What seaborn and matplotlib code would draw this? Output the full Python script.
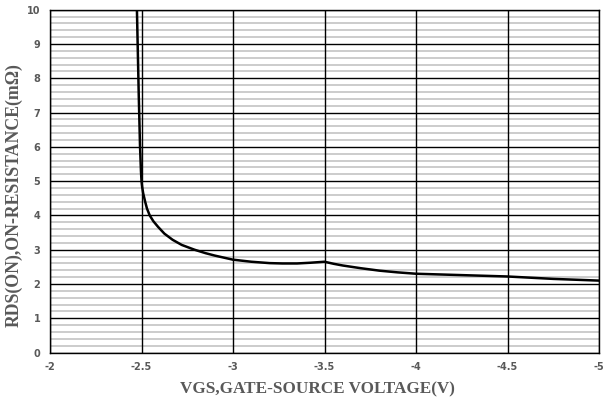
import matplotlib
matplotlib.use("Agg")
import matplotlib.pyplot as plt
import seaborn as sns
import numpy as np
import pandas as pd

vgs = [-2.475, -2.485, -2.492, -2.497, -2.5, -2.503, -2.509, -2.52, -2.53, -2.545,
       -2.565, -2.59, -2.625, -2.67, -2.72, -2.79, -2.85, -2.9, -2.95, -3.0, -3.1,
       -3.2, -3.27, -3.35, -3.42, -3.5, -3.55, -3.6, -3.65, -3.7, -3.8, -3.9,
       -4.0, -4.25, -4.5, -4.75, -5.0]
rds = [10.0, 7.5, 6.0, 5.3, 5.0, 4.85, 4.65, 4.4, 4.2, 4.0,
       3.83, 3.67, 3.47, 3.29, 3.14, 3.0, 2.9, 2.83, 2.77, 2.71, 2.65,
       2.61, 2.6, 2.6, 2.62, 2.65, 2.59, 2.54, 2.5, 2.46, 2.39, 2.34,
       2.3, 2.26, 2.22, 2.15, 2.1]
x_ticks = [-2, -2.5, -3, -3.5, -4, -4.5, -5]
x_tick_labels = ["-2", "-2.5", "-3", "-3.5", "-4", "-4.5", "-5"]
y_ticks = list(range(0, 11))

sns.set_style("white")
df = pd.DataFrame({"VGS": vgs, "RDS": rds})

fig = plt.figure(figsize=(6.06, 4.03), dpi=100)
ax = fig.add_axes([0.0825, 0.125, 0.906, 0.851])

# minor grid
for v in np.arange(0, 10.01, 0.2):
    if abs(v - round(v)) > 1e-6:
        ax.axhline(v, color="#c8c8c8", lw=1.3, zorder=0)
for v in y_ticks:
    ax.axhline(v, color="black", lw=1.0, zorder=1)
for v in x_ticks:
    ax.axvline(v, color="black", lw=1.0, zorder=1)

sns.lineplot(data=df, x="VGS", y="RDS", sort=False, color="black", lw=1.8, ax=ax, zorder=3)

ax.set_xlim(-2, -5)
ax.set_ylim(0, 10)
ax.set_xticks(x_ticks)
ax.set_xticklabels(x_tick_labels)
ax.set_yticks(y_ticks)
ax.tick_params(axis="both", length=0, labelsize=7, labelcolor="#595959", pad=7)
for lab in ax.get_xticklabels() + ax.get_yticklabels():
    lab.set_fontweight("bold")
for s in ax.spines.values():
    s.set_color("black")
    s.set_linewidth(1.0)

ax.set_xlabel("VGS,GATE-SOURCE VOLTAGE(V)", family="Liberation Serif", fontweight="bold",
              fontsize=12.3, color="#595959")
ax.xaxis.set_label_coords(0.488, -0.085)
ax.set_ylabel("RDS(ON),ON-RESISTANCE(mΩ)", family="Liberation Serif", fontweight="bold",
              fontsize=12.8, color="#595959")
ax.yaxis.set_label_coords(-0.05, 0.46)

fig.savefig("out.png", dpi=100)
